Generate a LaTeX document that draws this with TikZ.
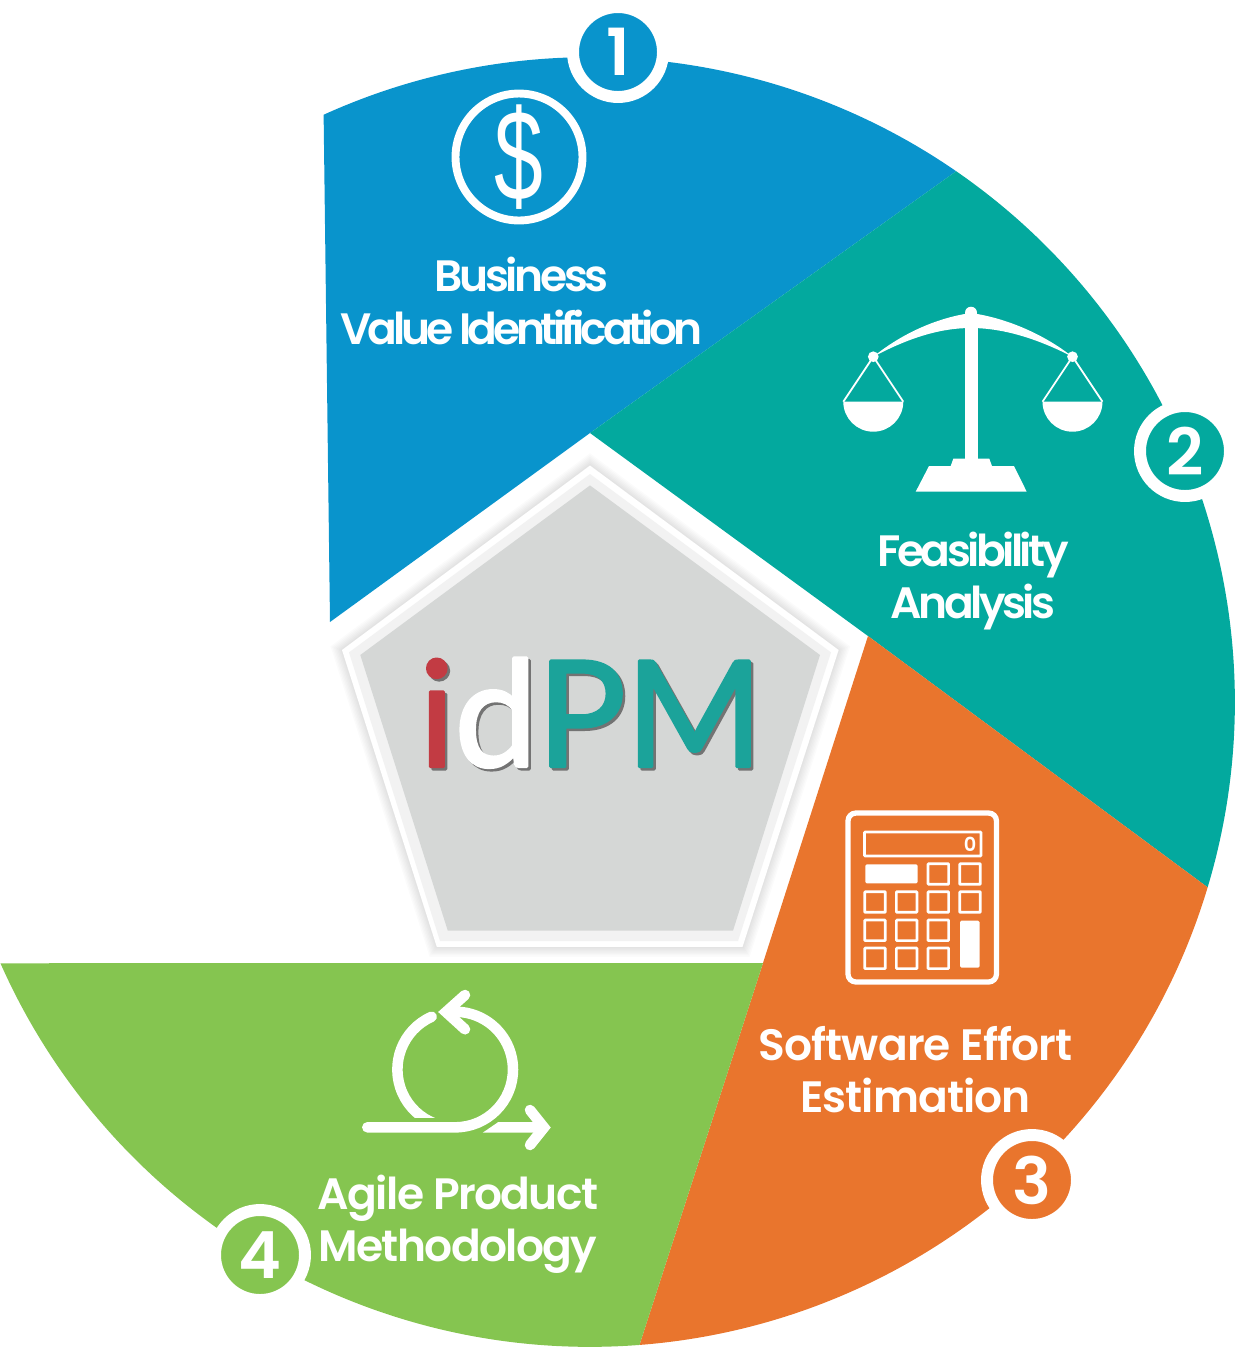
\documentclass[tikz,border=0pt]{standalone}
\usepackage{fontspec}
\setmainfont{Poppins SemiBold}
\newfontfamily\logofont{Lato}[FakeBold=2]
\newfontfamily\dollarfont{Liberation Sans}
\definecolor{bizblue}{HTML}{0994CC}
\definecolor{feasteal}{HTML}{03A99E}
\definecolor{effortorange}{HTML}{E9752D}
\definecolor{agilegreen}{HTML}{85C550}
\definecolor{pentgrey}{HTML}{D5D7D6}
\definecolor{logored}{HTML}{C23B43}
\definecolor{logoteal}{HTML}{1BA39A}
\newcommand{\logoch}[2]{\rlap{\kern1.4pt\raisebox{-1.4pt}{\textcolor{black!55}{#2}}}\textcolor{#1}{#2}}

\tikzset{%
  % Specifications for style of nodes:
         seclabel/.style = {text=white, font=\addfontfeature{LetterSpace=#1}\fontsize{25}{29.7}\selectfont, align=center, inner sep=0pt},
         badge/.style = {circle, draw=white, line width=6.8pt, minimum size=1.8cm, inner sep=0pt, outer sep=0pt, fill=#1, text=white, font=\fontsize{37}{37}\selectfont},
         calckey/.style = {draw=white, line width=1.5pt, rounded corners=0.4pt},
}

\begin{document}
\begin{tikzpicture}[x=0.02cm, y=-0.02cm]
    \useasboundingbox (0,0) rectangle (1237,1347);
    \coordinate (ctr) at (590,702);

    % Draw sectors
    \fill[bizblue]      (ctr) ++(114.4:12.9cm) arc[start angle=114.4, end angle=55.4, radius=12.9cm] -- (590,433) -- (330,622) -- cycle;
    \fill[feasteal]     (ctr) ++(55.4:12.9cm) arc[start angle=55.4, end angle=-16.7, radius=12.9cm] -- (868,636) -- (590,433) -- cycle;
    \fill[effortorange] (ctr) ++(-16.7:12.9cm) arc[start angle=-16.7, end angle=-85.6, radius=12.9cm] -- (763,963) -- (868,636) -- cycle;
    \fill[agilegreen]   (ctr) ++(-85.6:12.9cm) arc[start angle=-85.6, end angle=-156.1, radius=12.9cm] -- (763,963) -- cycle;

    % Draw pentagon
    \foreach \w in {1,2,...,7}
        \draw[black, opacity=0.014, line width=\w*1.6pt, line join=miter]
            (590,465.5) -- (838.6,650) -- (742.5,946.9) -- (436.8,946.9) -- (342,650) -- cycle;
    \fill[white]        (590,465.5) -- (838.6,650) -- (742.5,946.9) -- (436.8,946.9) -- (342,650) -- cycle;
    \fill[black!5]      (590,474) -- (831,652.4) -- (738,941) -- (440,941) -- (349,652.4) -- cycle;
    \fill[pentgrey]     (590,485.4) -- (820,655) -- (733,930.7) -- (447.8,930.7) -- (360.3,655) -- cycle;
    \node (logo) at (591,714) [inner sep=0pt, font=\logofont\fontsize{84}{84}\selectfont] {\special{pdf:code 1 j 1 J}\logoch{logored}{i}\logoch{white}{d}\logoch{logoteal}{P}\logoch{logoteal}{M}};

    % Draw dollar icon
    \node (dollarring) at (519,157) [circle, draw=white, line width=4.5pt, minimum size=2.54cm, inner sep=0pt] {};
    \node (dollar) at (dollarring.center) [text=white, inner sep=0pt, font=\dollarfont\fontsize{64}{64}\selectfont] {\scalebox{0.78}[1.15]{\$}};

    % Draw scales icon
    \fill[white] (965,320) rectangle (977.7,462);
    \fill[white] (873.3,356.7) .. controls (900,335) and (935,318) .. (971,313) .. controls (1007,318) and (1045,335) .. (1072.3,356.7) .. controls (1040,340) and (1005,328) .. (971,328) .. controls (937,328) and (905,340) .. (873.3,356.7) -- cycle;
    \fill[white] (971,312.7) circle[radius=0.12cm];
    \foreach \px in {873.3,1072.5} {
        \fill[white] (\px,356.7) circle[radius=0.107cm];
        \draw[white, line width=1pt] (\px-30,401.7) -- (\px,356.7) -- (\px+30,401.7);
        \fill[white] (\px-30,401.7) arc[start angle=180, end angle=360, radius=0.6cm] -- cycle;
    }
    \fill[white] (953.3,458.7) -- (989.3,458.7) -- (992,466) -- (1014,466) -- (1026.7,491.7) -- (915.7,491.7) -- (929,466) -- (950.7,466) -- cycle;

    % Draw calculator icon
    \draw[white, line width=3pt, rounded corners=0.16cm] (848,813) rectangle (996.5,982);
    \draw[calckey] (864.5,832) rectangle (981,856);
    \node (zero) at (970,844.3) [text=white, inner sep=0pt, font=\fontsize{11}{11}\selectfont] {0};
    \fill[white, rounded corners=0.03cm] (865.3,864.3) rectangle (917.7,883.3);
    \fill[white, rounded corners=0.03cm] (960,920.7) rectangle (979.7,967.7);
    \foreach \kx/\ky in {938.3/874, 970/874, 875/902, 906.7/902, 938.3/902, 970/902, 875/930.3, 906.7/930.3, 938.3/930.3, 875/958.3, 906.7/958.3, 938.3/958.3}
        \draw[calckey] (\kx-10.3,\ky-10.3) rectangle (\kx+10.3,\ky+10.3);

    % Draw agile icon
    \begin{scope}
        \clip (380,990) rectangle (520,1117.3);
        \draw[white, line width=6pt, line cap=round] (455.2,1069.5) ++(114:1.156cm) arc[start angle=114, end angle=250, radius=1.156cm];
    \end{scope}
    \draw[white, line width=6pt, line cap=round, line join=round] (367.3,1127.3) -- (455.2,1127.3) arc[start angle=-90, end angle=97, radius=1.156cm];
    \draw[white, line width=6pt, line cap=round, line join=miter] (465,995) -- (446,1012) -- (465,1029.3);
    \fill[white] (482.7,1132.7) -- (498.3,1122) -- (545,1122) -- (545,1132.7) -- cycle;
    \draw[white, line width=6pt, line cap=round, line join=miter] (530,1110) -- (544,1127.5) -- (530,1145);

    % Draw labels
    \node (biz)    at (521.5,301)  [seclabel=-7.5] {Business\\\addfontfeature{LetterSpace=-9.5}Value Identification};
    \node (feas)   at (973,581)    [seclabel=-8]   {Feasibility\\Analysis};
    \node (effort) at (915.5,1069.5) [seclabel=-2] {Software Effort\\Estimation};
    \node (agile)  at (458,1224)   [seclabel=-3.7] {Agile Product\\Methodology};

    % Draw badges
    \node (one)   at (618,52)    [badge=bizblue]      {1};
    \node (two)   at (1185,451)  [badge=feasteal]     {2};
    \node (three) at (1032,1180) [badge=effortorange] {3};
    \node (four)  at (260,1255)  [badge=agilegreen]   {4};

\end{tikzpicture}
\end{document}
